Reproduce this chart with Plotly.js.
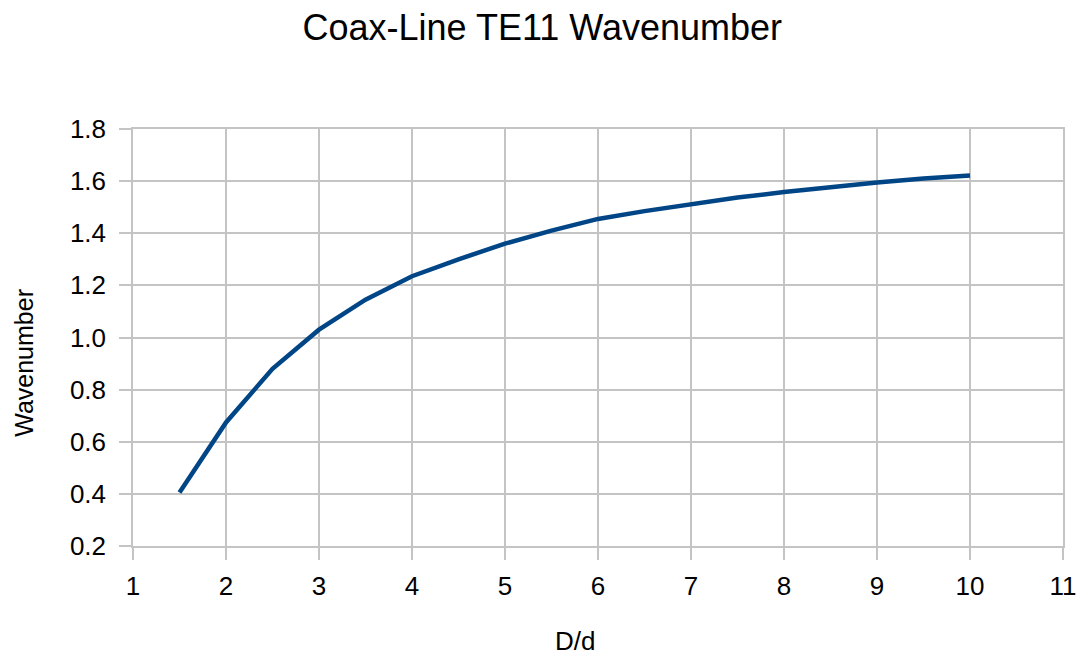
<!DOCTYPE html>
<html>
<head>
<meta charset="utf-8">
<script src="https://cdn.plot.ly/plotly-3.0.1.min.js"></script>
<style>html,body{margin:0;padding:0;background:#fff;}#chart{width:1089px;height:661px;}</style>
</head>
<body>
<div id="chart"></div>
<script>
const ratioDd = [1.5, 2, 2.5, 3, 3.5, 4, 4.5, 5, 5.5, 6, 6.5, 7, 7.5, 8, 8.5, 9, 9.5, 10];
const wavenumber = [0.405, 0.674, 0.88, 1.03, 1.145, 1.235, 1.30, 1.36, 1.41, 1.455, 1.485, 1.513, 1.537, 1.558, 1.578, 1.595, 1.61, 1.622];
const xTicks = [1, 2, 3, 4, 5, 6, 7, 8, 9, 10, 11];
const yTicks = [0.2, 0.4, 0.6, 0.8, 1.0, 1.2, 1.4, 1.6, 1.8];
const yTickText = yTicks.map(v => v.toFixed(1));
const chartTitle = 'Coax-Line TE11 Wavenumber';
const xTitle = 'D/d';
const yTitle = 'Wavenumber';

const gridColor = '#c4c4c4';
const fontFam = '"Liberation Sans", Arial, sans-serif';

Plotly.newPlot('chart', [{
  x: ratioDd,
  y: wavenumber,
  type: 'scatter',
  mode: 'lines',
  line: {color: '#004586', width: 4.5},
  hoverinfo: 'x+y'
}], {
  width: 1089,
  height: 661,
  paper_bgcolor: '#ffffff',
  plot_bgcolor: '#ffffff',
  showlegend: false,
  margin: {l: 133, r: 26, t: 129, b: 115},
  font: {family: fontFam, color: '#000000', size: 26},
  title: {
    text: chartTitle,
    font: {family: fontFam, size: 36, color: '#000000'},
    x: 0.498, xref: 'container', xanchor: 'center',
    y: 0.958, yref: 'container', yanchor: 'middle'
  },
  xaxis: {
    range: [1, 11],
    tickmode: 'array',
    tickvals: xTicks,
    ticktext: xTicks.map(String),
    showgrid: true,
    gridcolor: gridColor,
    gridwidth: 1.5,
    zeroline: false,
    showline: true,
    linecolor: gridColor,
    linewidth: 1.5,
    mirror: true,
    ticks: 'outside',
    ticklen: 12,
    tickwidth: 1.5,
    tickcolor: gridColor,
    ticklabelstandoff: 4,
    tickfont: {family: fontFam, size: 26, color: '#000000'}
  },
  yaxis: {
    range: [0.2, 1.8],
    tickmode: 'array',
    tickvals: yTicks,
    ticktext: yTickText,
    showgrid: true,
    gridcolor: gridColor,
    gridwidth: 1.5,
    zeroline: false,
    showline: true,
    linecolor: gridColor,
    linewidth: 1.5,
    mirror: true,
    ticks: 'outside',
    ticklen: 12,
    tickwidth: 1.5,
    tickcolor: gridColor,
    ticklabelstandoff: 8,
    tickfont: {family: fontFam, size: 26, color: '#000000'}
  },
  annotations: [
    {text: xTitle, xref: 'paper', yref: 'paper', x: 0.475, y: -0.228, xanchor: 'center', yanchor: 'middle', showarrow: false, font: {family: fontFam, size: 26, color: '#000000'}},
    {text: yTitle, xref: 'paper', yref: 'paper', x: -0.118, y: 0.44, xanchor: 'center', yanchor: 'middle', textangle: -90, showarrow: false, font: {family: fontFam, size: 25, color: '#000000'}}
  ]
}, {displayModeBar: false});
</script>
</body>
</html>
